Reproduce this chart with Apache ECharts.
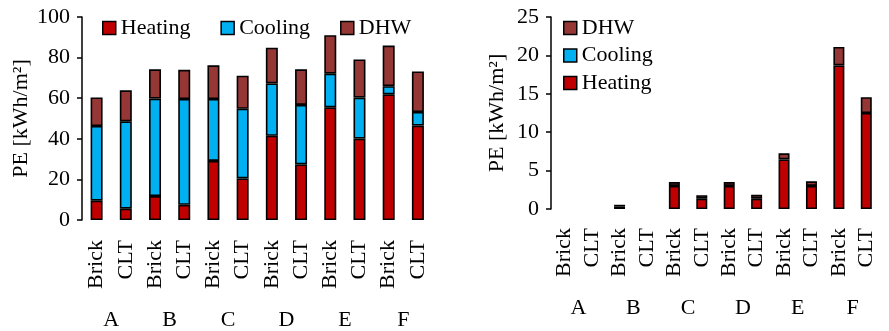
<!DOCTYPE html>
<html><head><meta charset="utf-8">
<script src="https://cdn.jsdelivr.net/npm/echarts@6/dist/echarts.min.js"></script>
<style>html,body{margin:0;padding:0;background:#fff}#c{width:889px;height:331px}</style>
</head><body><div id="c"></div>
<script>
const categories = ['Brick','CLT','Brick','CLT','Brick','CLT','Brick','CLT','Brick','CLT','Brick','CLT'];
const groups = ['A','B','C','D','E','F'];
const leftTicks = [0,20,40,60,80,100];
const rightTicks = [0,5,10,15,20,25];
// Left panel
const heatingL = [9.5, 5.6, 11.8, 7.5, 29.1, 20.5, 41.5, 27.4, 55.5, 40.1, 61.9, 46.5];
const coolingL = [36.8, 43.0, 48.0, 52.1, 30.5, 34.3, 25.8, 29.3, 16.6, 20.2, 4.0, 6.7];
const dhwL     = [14.1, 15.3, 14.4, 14.4, 16.6, 16.3, 17.6, 17.5, 18.9, 18.8, 20.0, 20.0];
// Right panel
const heatingR = [0, 0, 0.3, 0, 3.0, 1.35, 3.0, 1.35, 6.45, 3.0, 18.7, 12.5];
const coolingR = [0, 0, 0, 0, 0, 0, 0, 0, 0, 0, 0, 0];
const dhwR     = [0, 0, 0.25, 0, 0.5, 0.45, 0.5, 0.5, 0.8, 0.6, 2.4, 2.05];

const FONT = '"Liberation Serif", "Times New Roman", serif';
const FS = 22;
const C_HEAT = '#C00000', C_COOL = '#00B0F0', C_DHW = '#953735';
const nz = a => a.map(v => v === 0 ? '-' : v);

const chart = echarts.init(document.getElementById('c'), null, {renderer:'canvas'});
const yAxisBase = (idx, ticks, gap) => ({
  type:'value', gridIndex: idx, min: ticks[0], max: ticks[ticks.length-1], interval: ticks[1]-ticks[0],
  splitLine:{show:false},
  axisLine:{show:true, lineStyle:{color:'#000', width:1.5}},
  axisTick:{show:true, inside:false, length:5, lineStyle:{color:'#000', width:1.5}},
  axisLabel:{color:'#000', fontFamily:FONT, fontSize:FS, margin:12},
  name:'PE [kWh/m²]', nameLocation:'middle', nameRotate:90, nameGap: gap,
  nameTextStyle:{color:'#000', fontFamily:FONT, fontSize:FS}
});
const xCat = (idx, margin) => ({
  type:'category', gridIndex: idx, data: categories, position:'bottom',
  axisLine:{show:false}, axisTick:{show:false},
  axisLabel:{rotate:90, color:'#000', fontFamily:FONT, fontSize:FS, margin: margin, interval:0}
});
const xGrp = (idx, margin) => ({
  type:'category', gridIndex: idx, data: groups, position:'bottom',
  axisLine:{show:false}, axisTick:{show:false},
  axisLabel:{color:'#000', fontFamily:FONT, fontSize:FS, margin: margin, interval:0}
});
const bar = (name, data, color, xi, yi, stack, w) => ({
  name, type:'bar', data, xAxisIndex: xi, yAxisIndex: yi, stack, barWidth: w,
  itemStyle:{color, borderColor:'#000', borderWidth:1.6},
  emphasis:{disabled:true}, animation:false
});
const legendText = {color:'#000', fontFamily:FONT, fontSize:FS};
chart.setOption({
  animation:false,
  grid:[
    {left:82, width:350.5, top:17, height:203},
    {left:551, width:329, top:17, height:192}
  ],
  legend:[
    {left:102, top:17, padding:0, orient:'horizontal', icon:'rect', itemWidth:13, itemHeight:13, itemGap:30,
     itemStyle:{borderColor:'#000', borderWidth:1.5},
     data:['Heating','Cooling','DHW'], textStyle:legendText, selectedMode:false},
    {left:563, top:17, padding:0, orient:'vertical', icon:'rect', itemWidth:13, itemHeight:13, itemGap:5.5,
     itemStyle:{borderColor:'#000', borderWidth:1.5},
     data:['DHW','Cooling','Heating'], textStyle:legendText, selectedMode:false}
  ],
  xAxis:[ xCat(0, 20), xGrp(0, 89), xCat(1, 19), xGrp(1, 88) ],
  yAxis:[ yAxisBase(0, leftTicks, 50), yAxisBase(1, rightTicks, 43) ],
  series:[
    bar('Heating', heatingL, C_HEAT, 0, 0, 'L', 12),
    bar('Cooling', coolingL, C_COOL, 0, 0, 'L', 12),
    bar('DHW', dhwL, C_DHW, 0, 0, 'L', 12),
    bar('Heating', nz(heatingR), C_HEAT, 2, 1, 'R', 11),
    bar('Cooling', nz(coolingR), C_COOL, 2, 1, 'R', 11),
    bar('DHW', nz(dhwR), C_DHW, 2, 1, 'R', 11)
  ]
});
</script></body></html>
